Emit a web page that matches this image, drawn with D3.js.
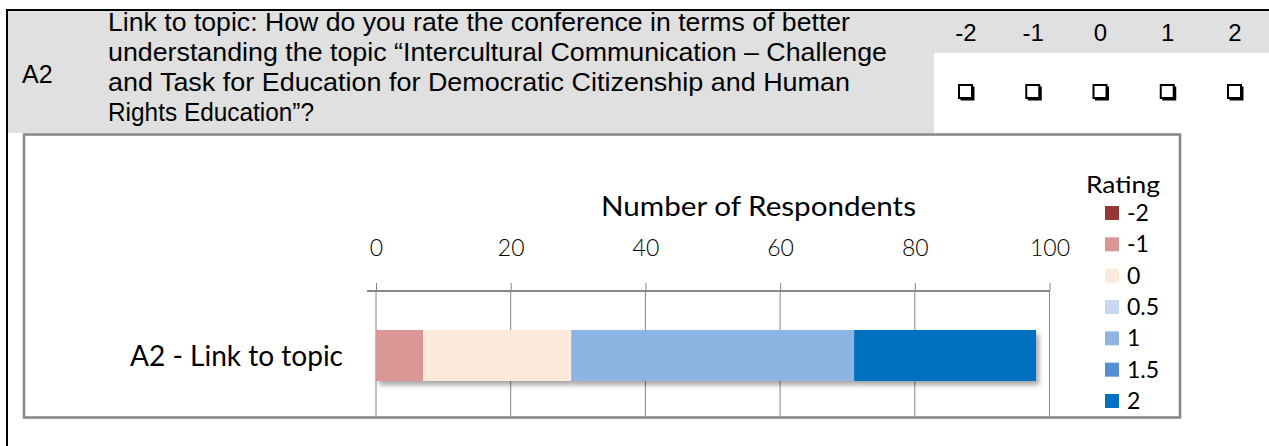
<!DOCTYPE html>
<html>
<head>
<meta charset="utf-8">
<script src="https://cdn.jsdelivr.net/npm/d3@7"></script>
<style>
  html, body { margin: 0; padding: 0; background: #fff; }
  svg { display: block; }
</style>
</head>
<body>
<svg id="chart" width="1269" height="446"></svg>
<script>
// ---------- data ----------
const itemCode = "A2";
const questionLines = [
  "Link to topic: How do you rate the conference in terms of better",
  "understanding the topic \u201cIntercultural Communication \u2013 Challenge",
  "and Task for Education for Democratic Citizenship and Human",
  "Rights Education\u201d?"
];
const scaleLabels = ["-2", "-1", "0", "1", "2"];
const categories = ["A2 - Link to topic"];
const ratings = ["-2", "-1", "0", "0.5", "1", "1.5", "2"];
const counts = [0, 7, 22, 0, 42, 0, 27];
const xTicks = [0, 20, 40, 60, 80, 100];
const axisTitle = "Number of Respondents";
const legendTitle = "Rating";
const palette = ["#953735", "#D99694", "#FDEADA", "#C6D9F1", "#8EB4E3", "#558ED5", "#0070C0"];

// ---------- drawing ----------
const svg = d3.select("#chart");
const ARIAL = "'Liberation Sans', Arial, sans-serif";
const CAL = "Lato, 'Open Sans', sans-serif";
const GRID = "#868686";

// header block
svg.append("rect").attr("x", 8).attr("y", 11).attr("width", 1261).attr("height", 122).attr("fill", "#e0e0e0");
svg.append("rect").attr("x", 934).attr("y", 53).attr("width", 335).attr("height", 80).attr("fill", "#ffffff");
svg.append("rect").attr("x", 6).attr("y", 9).attr("width", 1263).attr("height", 2).attr("fill", "#000");
svg.append("rect").attr("x", 6).attr("y", 9).attr("width", 2).attr("height", 437).attr("fill", "#000");

svg.append("text").attr("x", 22).attr("y", 83).attr("font-family", ARIAL).attr("font-size", 25)
  .attr("fill", "#000").text(itemCode);

const lineEnds = [850, 887, 850, 314];
svg.append("g").selectAll("text").data(questionLines).join("text")
  .attr("x", 108).attr("y", (d, i) => 31 + i * 30)
  .attr("font-family", ARIAL).attr("font-size", 25).attr("fill", "#000")
  .attr("textLength", (d, i) => lineEnds[i] - 108).attr("lengthAdjust", "spacingAndGlyphs")
  .text(d => d);

const colX = d3.scalePoint().domain(scaleLabels).range([966, 1235]);
svg.append("g").selectAll("text").data(scaleLabels).join("text")
  .attr("x", d => colX(d)).attr("y", 41).attr("text-anchor", "middle")
  .attr("font-family", ARIAL).attr("font-size", 24).attr("fill", "#000").text(d => d);

const boxes = svg.append("g").selectAll("g").data(scaleLabels).join("g")
  .attr("transform", d => `translate(${colX(d) - 8},${84})`);
boxes.append("rect").attr("x", 2.5).attr("y", 2.5).attr("width", 14).attr("height", 14).attr("fill", "#000");
boxes.append("rect").attr("x", 1).attr("y", 1).attr("width", 13).attr("height", 13)
  .attr("fill", "#fff").attr("stroke", "#000").attr("stroke-width", 2);

// chart frame
svg.append("rect").attr("x", 24).attr("y", 134.5).attr("width", 1156).attr("height", 283)
  .attr("fill", "#fff").attr("stroke", GRID).attr("stroke-width", 2.5);

// scales
const x = d3.scaleLinear().domain([0, 100]).range([376, 1049.5]);
const plotTop = 291, plotBottom = 418;

// gridlines
svg.append("g").selectAll("line").data(xTicks).join("line")
  .attr("x1", d => x(d)).attr("x2", d => x(d)).attr("y1", plotTop).attr("y2", plotBottom)
  .attr("stroke", GRID).attr("stroke-width", 1);

// top axis
const axis = d3.axisTop(x).tickValues(xTicks).tickSize(8).tickPadding(27).tickFormat(d3.format("d"));
const ag = svg.append("g").attr("transform", `translate(0,${plotTop})`).call(axis);
ag.select(".domain").remove();
ag.selectAll(".tick line").attr("stroke", GRID).attr("stroke-width", 1);
ag.selectAll(".tick text").attr("font-family", CAL).attr("font-weight", 300).attr("font-size", 23).attr("fill", "#000");
svg.append("line").attr("x1", 367).attr("x2", 1050).attr("y1", plotTop).attr("y2", plotTop)
  .attr("stroke", GRID).attr("stroke-width", 2);

// stacked bar
const row = { cat: categories[0] };
ratings.forEach((r, i) => row[r] = counts[i]);
const stack = d3.stack().keys(ratings)([row]);
const color = d3.scaleOrdinal().domain(ratings).range(palette);

const defs = svg.append("defs");
const f = defs.append("filter").attr("id", "shadow").attr("x", "-5%").attr("y", "-30%").attr("width", "110%").attr("height", "170%");
f.append("feDropShadow").attr("dx", 3).attr("dy", 4).attr("stdDeviation", 2.5)
  .attr("flood-color", "#000").attr("flood-opacity", 0.35);

const barY = 330, barH = 51;
svg.append("g").attr("filter", "url(#shadow)")
  .selectAll("rect").data(stack.filter(s => s[0][1] - s[0][0] > 0)).join("rect")
  .attr("x", s => x(s[0][0])).attr("width", s => x(s[0][1]) - x(s[0][0]))
  .attr("y", barY).attr("height", barH)
  .attr("fill", s => color(s.key));

// category label
svg.append("text").attr("x", 343).attr("y", 366).attr("text-anchor", "end")
  .attr("font-family", CAL).attr("font-size", 28).attr("fill", "#000")
  .attr("textLength", 213).attr("lengthAdjust", "spacingAndGlyphs")
  .text(categories[0]);

// axis title
svg.append("text").attr("x", 601).attr("y", 216)
  .attr("font-family", CAL).attr("font-size", 27).attr("fill", "#000")
  .attr("textLength", 315).attr("lengthAdjust", "spacingAndGlyphs")
  .text(axisTitle);

// legend
svg.append("text").attr("x", 1086).attr("y", 193)
  .attr("font-family", CAL).attr("font-size", 24).attr("fill", "#000")
  .attr("textLength", 74).attr("lengthAdjust", "spacingAndGlyphs")
  .text(legendTitle);
const ly = d3.scalePoint().domain(ratings).range([206, 394]);
const li = svg.append("g").selectAll("g").data(ratings).join("g")
  .attr("transform", d => `translate(1105,${ly(d)})`);
li.append("rect").attr("width", 14).attr("height", 14).attr("fill", d => color(d));
li.append("text").attr("x", 22).attr("y", 15).attr("font-family", CAL).attr("font-size", 23)
  .attr("fill", "#000").text(d => d);
</script>
</body>
</html>
